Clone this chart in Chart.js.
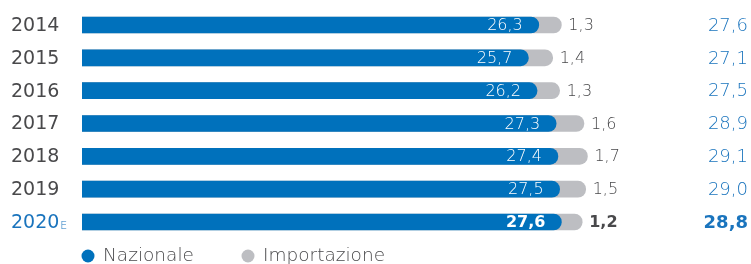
<!DOCTYPE html>
<html>
<head>
<meta charset="utf-8">
<script src="https://cdn.jsdelivr.net/npm/chart.js@4/dist/chart.umd.min.js"></script>
<style>
html,body{margin:0;padding:0;background:#fff;}
canvas{display:block;}
</style>
</head>
<body>
<canvas id="c" width="751" height="264"></canvas>
<script>
const categories = ['2014', '2015', '2016', '2017', '2018', '2019', '2020'];
const categorySuffix = ['', '', '', '', '', '', 'E'];
const nazionale = [26.3, 25.7, 26.2, 27.3, 27.4, 27.5, 27.6];
const importazione = [1.3, 1.4, 1.3, 1.6, 1.7, 1.5, 1.2];
const totale = [27.6, 27.1, 27.5, 28.9, 29.1, 29.0, 28.8];
const seriesNames = ['Nazionale', 'Importazione'];

const BLUE = '#0071bc';
const GRAY = '#bdbec2';
const TEXT = '#49494b';
const TOTAL_BLUE = '#1a74bd';
const FONT = '"DejaVu Sans", sans-serif';

const fmt = v => v.toFixed(1).replace('.', ',');

const labelPlugin = {
  id: 'labels',
  afterDatasetsDraw(chart) {
    const ctx = chart.ctx;
    const xs = chart.scales.x, ys = chart.scales.y;
    const last = categories.length - 1;
    ctx.save();
    ctx.textBaseline = 'middle';
    categories.forEach((cat, i) => {
      const y = ys.getPixelForValue(i);
      const isLast = i === last;
      // year label
      ctx.textAlign = 'left';
      ctx.font = '19px ' + FONT;
      ctx.fillStyle = isLast ? TOTAL_BLUE : TEXT;
      ctx.fillText(cat, 11, y + 1);
      if (categorySuffix[i]) {
        const w = ctx.measureText(cat).width;
        ctx.font = '200 11px ' + FONT;
        ctx.fillText(categorySuffix[i], 11 + w + 1, y + 4.5);
      }
      // nazionale value inside bar
      ctx.textAlign = 'right';
      ctx.font = (isLast ? 'bold ' : '200 ') + '16px ' + FONT;
      ctx.fillStyle = '#ffffff';
      ctx.fillText(fmt(nazionale[i]), xs.getPixelForValue(nazionale[i]) - 16, y + 1);
      // importazione value after bar
      ctx.textAlign = 'left';
      ctx.fillStyle = TEXT;
      ctx.fillText(fmt(importazione[i]), xs.getPixelForValue(totale[i]) + 7, y + 1);
      // total
      ctx.textAlign = 'right';
      ctx.font = (isLast ? 'bold ' : '200 ') + '18px ' + FONT;
      ctx.fillStyle = TOTAL_BLUE;
      ctx.fillText(fmt(totale[i]), 748, y + 1);
    });
    // legend
    const ly = 256;
    const items = [[88, BLUE, seriesNames[0]], [248, GRAY, seriesNames[1]]];
    ctx.textAlign = 'left';
    ctx.font = '200 18.5px ' + FONT;
    items.forEach(([x, col, name]) => {
      ctx.beginPath();
      ctx.arc(x, ly, 6.5, 0, Math.PI * 2);
      ctx.fillStyle = col;
      ctx.fill();
      ctx.fillStyle = TEXT;
      ctx.fillText(name, x + 15, ly);
    });
    ctx.restore();
  }
};

new Chart(document.getElementById('c'), {
  type: 'bar',
  data: {
    labels: categories,
    datasets: [
      {
        label: seriesNames[0],
        data: nazionale,
        backgroundColor: BLUE,
        grouped: false,
        barThickness: 16,
        borderSkipped: 'start',
        borderRadius: {topLeft: 0, bottomLeft: 0, topRight: 8, bottomRight: 8}
      },
      {
        label: seriesNames[1],
        data: totale,
        backgroundColor: GRAY,
        grouped: false,
        barThickness: 16,
        borderSkipped: 'start',
        borderRadius: {topLeft: 0, bottomLeft: 0, topRight: 8, bottomRight: 8}
      }
    ]
  },
  options: {
    indexAxis: 'y',
    responsive: false,
    devicePixelRatio: 1,
    animation: false,
    layout: {padding: {left: 82, right: 9, top: 8.6, bottom: 25.6}},
    plugins: {legend: {display: false}, tooltip: {enabled: false}},
    scales: {
      x: {display: false, min: 0, max: 38},
      y: {display: false}
    }
  },
  plugins: [labelPlugin]
});
</script>
</body>
</html>
